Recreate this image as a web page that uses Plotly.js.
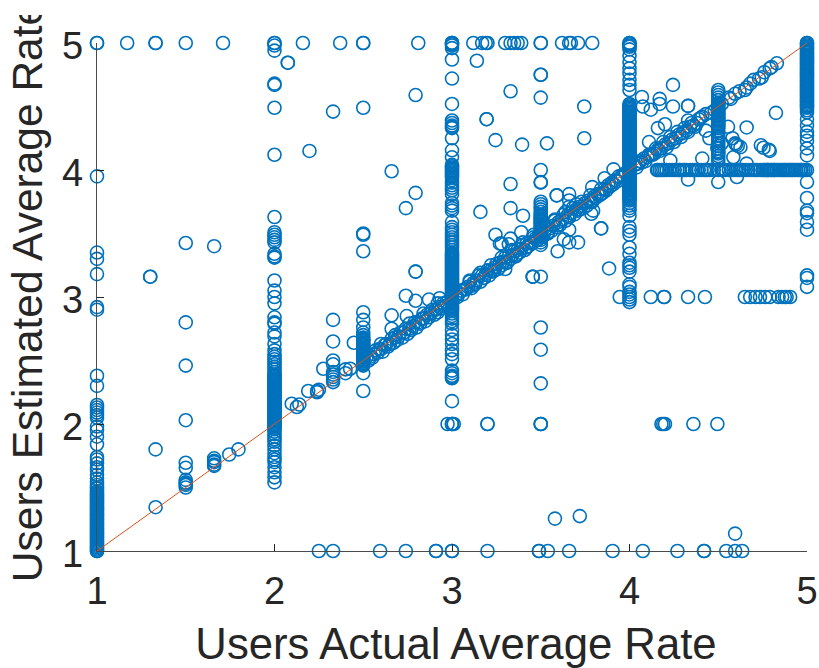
<!DOCTYPE html>
<html><head><meta charset="utf-8">
<script src="https://cdn.plot.ly/plotly-3.0.1.min.js"></script>
<style>html,body{margin:0;background:#fff;overflow:hidden}#wrap{position:absolute;left:0;top:15px;width:819px;height:653px;overflow:hidden}#chart{width:819px;height:653px}</style>
</head><body><div id="wrap"><div id="chart"></div></div>
<script>
// columns of points at a fixed actual rate
const col1Y=[5,5,3.95,3.35,3.30,3.18,2.92,2.90,2.38,2.30,2.15,2.13,2.11,2.09,2.07,2.05,1.98,1.95,1.90,1.84,1.74,1.72,1.69,1.66,1.64,1.60,1.57,1.54,1.52,1.50,1.47,1.45,1.43,1.41,1.38,1.36,1.34,1.31,1.29,1.27,1.25,1.23,1.20,1.18,1.16,1.14,1.12,1.10,1.08,1.06,1.05,1.04,1.03,1.02,1.01,1,1,1.49,1.46,1.44,1.42,1.40,1.39,1.37,1.35,1.33,1.32,1.30,1.28,1.26,1.24,1.22,1.21,1.19,1.17,1.15,1.13,1.11,1.09,1.07];
const col2Y=[5,5,4.98,4.94,4.68,4.67,4.49,4.12,3.63,3.51,3.49,3.47,3.45,3.43,3.34,3.32,3.31,3.13,3.05,3.0,2.95,2.84,2.80,2.79,2.72,2.69,2.63,2.58,2.55,2.53,2.51,2.49,2.47,2.45,2.43,2.41,2.39,2.37,2.35,2.33,2.31,2.29,2.27,2.25,2.23,2.21,2.19,2.17,2.15,2.13,2.11,2.09,2.07,2.05,2.03,2.01,1.99,1.97,1.90,1.83,1.77,1.74,1.70,1.66,1.62,1.58,1.54,2.38,2.36,2.34,2.32,2.30,2.28,2.26,2.24,2.22,2.20,2.18,2.16,2.14,2.12,2.10,2.08,2.06,2.04,2.02,2.00,1.98,1.96,1.94,1.92,1.88,1.86,1.80,1.72];
const col25Y=[5,5,4.49,3.50,3.49,3.36,2.88,2.82,2.76,2.72,2.70,2.68,2.66,2.64,2.63,2.62,2.61,2.59,2.58,2.57,2.55,2.54,2.53,2.52,2.51,2.50,2.48,2.46,2.40,2.26,2.60,2.565,2.545,2.525,2.49,2.47,2.65,2.67];
const col3Y=[5,5,5,4.99,4.98,4.96,4.87,4.72,4.52,4.39,4.37,4.35,4.34,4.33,4.25,4.155,4.10,4.04,4.02,4.0,3.98,3.96,3.94,3.92,3.90,3.88,3.86,3.84,3.81,3.74,3.72,3.70,3.68,3.59,3.55,3.53,3.51,3.49,3.47,3.45,3.43,3.41,3.39,3.37,3.35,3.33,3.31,3.29,3.27,3.25,3.23,3.21,3.19,3.17,3.15,3.13,3.11,3.09,3.07,3.05,3.03,3.01,2.99,2.97,2.95,2.93,2.91,2.89,2.87,2.85,2.83,2.81,2.79,2.74,2.70,2.665,2.63,2.58,2.55,2.51,2.42,2.40,2.38,2.37,2.36,2.18,2.0,2.0,2.0,3.34,3.32,3.30,3.28,3.26,3.24,3.22,3.20,3.18,3.16,3.14,3.12,3.10,3.08,3.06,3.04,3.02,3.00,2.98,2.96,2.94,2.92,2.90,4.03,4.01,3.99,3.97,3.95];
const col35Y=[5,5,4.75,4.75,4.57,4.0,3.905,3.90,3.75,3.73,3.71,3.69,3.67,3.65,3.63,3.61,3.59,3.57,3.55,3.53,3.51,3.49,3.47,3.45,3.43,3.41,3.16,2.76,2.585,2.32,2.0,2.0,2.0,3.64,3.62,3.60,3.58,3.56,3.54,3.52,3.50,3.48];
const col4Y=[5,5,4.99,4.98,4.97,4.95,4.90,4.85,4.80,4.76,4.71,4.67,4.63,4.52,4.50,4.48,4.46,4.44,4.42,4.40,4.38,4.36,4.34,4.32,4.30,4.28,4.26,4.24,4.22,4.20,4.18,4.16,4.14,4.12,4.10,4.08,4.06,4.04,4.02,4.0,3.98,3.96,3.94,3.92,3.90,3.88,3.86,3.84,3.82,3.80,3.78,3.76,3.74,3.72,3.70,3.68,3.64,3.55,3.52,3.49,3.39,3.34,3.27,3.25,3.23,3.20,3.10,3.08,3.04,3.02,3.0,2.98,2.96,4.51,4.49,4.47,4.45,4.43,4.41,4.39,4.37,4.35,4.33,4.31,4.29,4.27,4.25,4.23,4.21,4.19,4.17,4.15,4.13,4.11,4.09,4.07,4.05,4.03,4.01,3.99,3.97,3.95,3.93,3.91,3.89,3.87,3.85,3.83,3.81,3.79,3.77];
const col45Y=[4.63,4.61,4.59,4.57,4.55,4.53,4.51,4.49,4.47,4.45,4.43,4.41,4.39,4.37,4.35,4.33,4.31,4.29,4.27,4.25,4.23,4.21,4.19,4.17,4.15,4.13,4.11,4.09,4.07,3.905,4.52,4.50,4.48,4.46,4.44,4.42,4.40,4.38,4.36,4.34];
const col5Y=[5,5,4.98,4.96,4.94,4.92,4.90,4.88,4.86,4.84,4.82,4.80,4.78,4.76,4.74,4.72,4.70,4.68,4.66,4.64,4.62,4.60,4.58,4.56,4.54,4.52,4.50,4.455,4.40,4.35,4.30,4.27,4.23,4.17,4.115,4.0,3.905,3.78,3.68,3.66,3.59,3.53,3.17,3.15,3.08,4.99,4.97,4.95,4.93,4.91,4.89,4.87,4.85,4.83,4.81,4.79,4.77,4.75,4.73,4.71,4.69,4.67,4.65,4.63,4.61,4.59,4.57,4.55,4.53,4.51,4.49,4.47];
// rows of points at a fixed estimated rate
const row5X=[1.17,1.33,1.33,1.50,1.71,2.16,2.37,2.81,3.12,3.17,3.19,3.20,3.30,3.33,3.35,3.37,3.39,3.62,3.66,3.67,3.71,3.79];
const row4X=[4.155,4.17,4.19,4.21,4.24,4.255,4.27,4.285,4.30,4.32,4.34,4.355,4.37,4.39,4.405,4.42,4.44,4.455,4.475,4.50,4.52,4.54,4.56,4.575,4.585,4.60,4.62,4.64,4.655,4.67,4.685,4.70,4.72,4.735,4.75,4.77,4.785,4.80,4.815,4.83,4.85,4.865,4.88,4.90,4.915,4.93,4.95,4.965,4.98,4.16,4.18,4.20,4.225,4.28,4.31,4.38,4.43,4.53,4.61,4.63,4.71,4.76,4.775,4.78,4.795,4.81,4.82,4.84,4.86,4.875,4.89,4.905,4.92,4.94,4.96,4.97,4.99];
const row3X=[3.945,4.12,4.195,4.195,4.33,4.425,4.65,4.68,4.71,4.735,4.765,4.79,4.84,4.86,4.875,4.885,4.905];
const row2X=[2.975,3.01,3.20,3.20,4.18,4.19,4.20,4.36,4.495];
const row1X=[2.25,2.33,2.595,2.74,2.91,2.91,3.0,3.0,3.20,3.49,3.49,3.54,3.66,3.905,4.075,4.27,4.42,4.42,4.545,4.595,4.635];
// points along the diagonal
const diagX=[1.33,1.50,1.66,1.66,1.66,1.66,1.66,1.745,1.797,2.097,2.126,2.14,2.19,2.24,2.25,2.24,2.33,2.33,2.33,2.33,2.33,2.40,2.40,2.426,2.52,2.54,2.56,2.57,2.59,2.60,2.62,2.63,2.65,2.66,2.68,2.70,2.71,2.73,2.74,2.76,2.78,2.79,2.81,2.83,2.84,2.86,2.88,2.89,2.91,2.93,2.95,2.97,3.02,3.04,3.05,3.07,3.09,3.10,3.12,3.14,3.15,3.17,3.19,3.20,3.22,3.24,3.25,3.27,3.29,3.30,3.32,3.34,3.35,3.37,3.39,3.40,3.42,3.44,3.46,3.47,3.49,3.52,3.53,3.55,3.57,3.58,3.60,3.62,3.63,3.65,3.67,3.68,3.70,3.72,3.73,3.75,3.77,3.78,3.80,3.82,3.84,3.86,3.88,3.90,3.92,3.94,3.96,3.98,4.03,4.05,4.07,4.08,4.10,4.12,4.14,4.16,4.18,4.20,4.22,4.24,4.26,4.28,4.30,4.32,4.34,4.36,4.38,4.40,4.43,4.46,4.48,4.52,4.56,4.57,4.595,4.62,4.65,4.66,4.68,4.70,4.73,4.745,4.76,4.79,4.80,4.83];
const diagY=[1.345,1.50,1.73,1.71,1.70,1.68,1.67,1.76,1.80,2.16,2.134,2.153,2.26,2.26,2.27,2.25,2.41,2.39,2.37,2.35,2.33,2.40,2.43,2.435,2.53,2.53,2.55,2.58,2.59,2.59,2.62,2.63,2.63,2.67,2.68,2.69,2.72,2.72,2.75,2.75,2.77,2.80,2.80,2.83,2.83,2.86,2.87,2.90,2.90,2.92,2.95,2.96,3.01,3.03,3.05,3.06,3.08,3.12,3.11,3.13,3.17,3.17,3.18,3.21,3.21,3.23,3.26,3.27,3.28,3.31,3.32,3.33,3.36,3.37,3.38,3.41,3.42,3.43,3.47,3.46,3.49,3.51,3.54,3.54,3.56,3.60,3.59,3.61,3.65,3.64,3.66,3.70,3.69,3.71,3.75,3.74,3.76,3.80,3.79,3.81,3.85,3.85,3.88,3.90,3.92,3.95,3.96,3.98,4.04,4.05,4.06,4.09,4.10,4.12,4.13,4.16,4.17,4.20,4.21,4.24,4.25,4.28,4.29,4.31,4.34,4.35,4.37,4.41,4.44,4.45,4.47,4.52,4.57,4.56,4.60,4.62,4.63,4.65,4.68,4.71,4.72,4.73,4.77,4.80,4.81,4.84];
// extra points crowding the diagonal band
const bandX=[2.53,2.55,2.58,2.61,2.64,2.67,2.69,2.72,2.75,2.77,2.80,2.82,2.85,2.87,2.90,2.92,2.94,2.96,3.03,3.06,3.08,3.11,3.13,3.16,3.18,3.21,3.23,3.26,3.28,3.31,3.33,3.36,3.38,3.41,3.43,3.45,3.48,3.51,3.54,3.56,3.59,3.61,3.64,3.66,3.69,3.71,3.74,3.76,3.79,3.81,3.83,3.85,3.87,3.89,3.91,3.93,3.95,4.04,4.06,4.09,4.11,4.13,4.15,4.17,4.19,4.21,4.23,4.25,4.27,4.29,4.31,4.33,4.35,4.37,4.39,2.60,2.68,2.76,2.84,2.92,3.12,3.18,3.24,3.30,3.36,3.42,3.48,3.54,3.60,3.66,3.72,3.78,3.84,3.10,3.16,3.22,3.28,3.34,3.40,3.46,3.52,3.58,3.64,3.70];
const bandY=[2.50,2.52,2.56,2.57,2.61,2.64,2.66,2.68,2.71,2.74,2.76,2.79,2.81,2.84,2.86,2.88,2.91,2.93,3.0,3.02,3.06,3.07,3.10,3.12,3.15,3.17,3.20,3.22,3.25,3.27,3.30,3.32,3.35,3.37,3.40,3.42,3.45,3.47,3.50,3.52,3.55,3.57,3.60,3.63,3.65,3.68,3.70,3.72,3.75,3.78,3.80,3.82,3.84,3.87,3.89,3.91,3.94,4.02,4.07,4.07,4.12,4.12,4.17,4.15,4.22,4.18,4.26,4.22,4.30,4.26,4.33,4.30,4.37,4.34,4.40,2.63,2.70,2.79,2.87,2.95,3.09,3.15,3.21,3.27,3.33,3.39,3.45,3.51,3.57,3.63,3.69,3.75,3.81,3.13,3.19,3.25,3.31,3.37,3.43,3.49,3.55,3.61,3.67,3.73];
// scattered points
const freeX=[2.075,2.075,2.33,2.197,2.66,2.74,2.795,2.795,1.50,1.66,1.30,1.30,1.50,2.795,2.795,2.74,2.33,1.33,1.50,1.50,1.50,1.50,1.50,1.50,1.50,1.50,2.33,2.33,2.447,2.795,2.87,2.93,2.66,2.745,2.66,2.275,2.33,3.58,3.72,4.595,3.14,3.33,3.745,3.195,3.195,3.745,3.245,3.395,3.535,3.33,3.16,3.33,3.40,3.245,3.27,3.59,3.59,3.66,3.66,3.66,3.91,3.86,3.79,3.795,3.785,3.84,3.84,3.66,3.63,3.66,3.71,3.595,3.885,3.455,3.455,3.455,3.30,3.39,3.33,3.28,3.32,4.07,4.075,4.12,4.17,4.17,4.245,4.245,4.33,4.33,4.20,4.16,4.11,4.33,4.43,4.41,4.45,4.555,4.66,4.825,4.58,4.595,4.60,4.61,4.625,4.74,4.755,4.785,4.79,4.41,4.23,4.495,4.50,4.52,4.585,4.66,4.605,4.33];
const freeY=[4.845,4.845,4.46,4.15,3.99,3.70,4.59,3.82,3.425,3.40,3.16,3.16,2.80,3.20,3.20,3.01,2.82,1.80,2.46,2.03,1.695,1.655,1.56,1.54,1.53,1.52,2.65,2.50,2.64,2.97,2.98,2.99,2.856,2.85,2.75,2.435,2.47,1.255,1.275,1.137,4.86,4.62,4.50,4.40,4.40,4.25,4.235,4.20,4.21,3.89,3.67,3.70,3.64,3.49,3.42,3.80,3.80,3.81,3.76,3.71,4.005,3.935,3.865,3.68,3.655,3.54,3.54,3.53,3.455,3.43,3.43,3.36,3.225,3.16,3.16,3.16,3.22,3.51,3.46,3.42,3.415,4.575,4.50,4.475,4.56,4.52,4.67,4.50,4.505,4.505,4.36,4.33,4.22,4.39,4.31,4.42,4.25,4.34,4.335,4.45,4.25,4.21,4.20,4.19,4.18,4.195,4.175,4.16,4.15,4.09,4.075,4.17,4.14,4.21,4.10,4.05,3.945,3.925];
const refX=[1,5], refY=[1,5];
const xTicks=[1,2,3,4,5], yTicks=[1,2,3,4,5];

const fill=(arr,v)=>arr.map(()=>v);
const xs=[].concat(fill(col1Y,1),fill(col2Y,2),fill(col25Y,2.5),fill(col3Y,3),fill(col35Y,3.5),fill(col4Y,4),fill(col45Y,4.5),fill(col5Y,5),row5X,row4X,row3X,row2X,row1X,diagX,bandX,freeX);
const ys=[].concat(col1Y,col2Y,col25Y,col3Y,col35Y,col4Y,col45Y,col5Y,fill(row5X,5),fill(row4X,4),fill(row3X,3),fill(row2X,2),fill(row1X,1),diagY,bandY,freeY);
const ink='#262626', FF='"Liberation Sans", Arial, sans-serif';
const axis={range:[1,5],tickmode:'array',showgrid:false,zeroline:false,showline:true,linecolor:'#4a4a4a',linewidth:1.2,ticks:'inside',ticklen:7,tickwidth:1,tickcolor:'#262626',tickfont:{family:FF,size:38,color:ink},automargin:false};
Plotly.newPlot('chart',[
 {type:'scatter',mode:'markers',x:xs,y:ys,cliponaxis:false,marker:{symbol:'circle-open',size:13,color:'#0072BD',line:{width:1.6,color:'#0072BD'}},hoverinfo:'skip'},
 {type:'scatter',mode:'lines',x:refX,y:refY,cliponaxis:false,line:{color:'#D95319',width:1},hoverinfo:'skip'}
],{
 width:819,height:653,showlegend:false,paper_bgcolor:'#fff',plot_bgcolor:'#fff',
 margin:{l:97,r:12,t:28,b:117.3,pad:0},
 xaxis:Object.assign({},axis,{tickvals:xTicks,ticktext:xTicks.map(String),ticklabelstandoff:6,title:{text:'Users Actual Average Rate',font:{family:FF,size:43.7,color:ink},standoff:6}}),
 yaxis:Object.assign({},axis,{tickvals:yTicks,ticktext:yTicks.map(String),ticklabelstandoff:5,title:{text:'Users Estimated Average Rate',font:{family:FF,size:42.5,color:ink},standoff:6}})
},{displayModeBar:false,staticPlot:true}).then(()=>{
 const nudge=(sel,dx,dy)=>document.querySelectorAll(sel).forEach(el=>{el.setAttribute('transform','translate('+dx+','+dy+') '+(el.getAttribute('transform')||''));});
 nudge('.xtitle',4,7);
 nudge('.ytitle',0,-5);
 nudge('.ytick text',0,3);
});
</script></body></html>
